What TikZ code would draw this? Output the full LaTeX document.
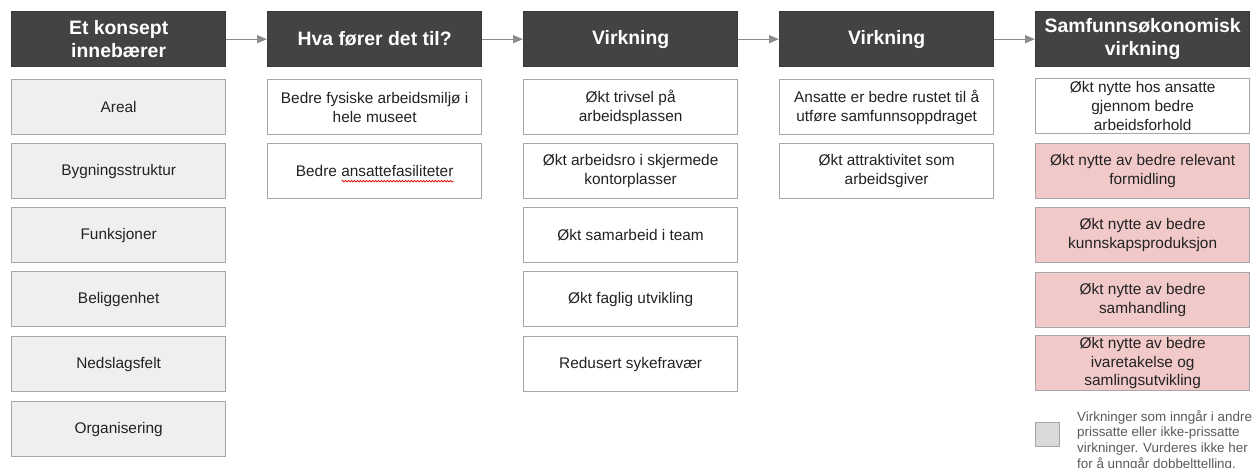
\documentclass[tikz,border=0pt]{standalone}
\usepackage{fontspec}
\setmainfont{Liberation Sans}
\usetikzlibrary{arrows.meta,decorations.pathmorphing}
\definecolor{hdr}{HTML}{434343}
\definecolor{hdrline}{HTML}{3A3A3A}
\definecolor{boxline}{HTML}{A6A6A6}
\definecolor{greyfill}{HTML}{EFEFEF}
\definecolor{pinkfill}{HTML}{F2C9C9}
\definecolor{legfill}{HTML}{D9D9D9}
\definecolor{txt}{HTML}{222222}
\definecolor{legtxt}{HTML}{5A5A5A}
\definecolor{arrcol}{HTML}{8C8C8C}
\begin{document}
\begin{tikzpicture}[x=1pt,y=-1pt,
  box/.style={draw=boxline, line width=1.3pt, minimum width=214pt, minimum height=55pt,
    inner sep=0pt, align=center, anchor=north west, text=txt,
    font=\fontsize{15.4}{18.8}\selectfont},
  hbox/.style={box, fill=hdr, draw=hdrline, text=white,
    font=\fontsize{19.4}{23.5}\selectfont\bfseries},
  gbox/.style={box, fill=greyfill},
  wbox/.style={box, fill=white},
  pbox/.style={box, fill=pinkfill},
  arr/.style={draw=arrcol, line width=1.3pt, -{Triangle[length=10pt,width=8pt]}, arrcol},
  legendtext/.style={anchor=north west, inner sep=0pt, align=left, text=legtxt,
    font=\fontsize{13.4}{15.7}\selectfont}
]
\useasboundingbox (0,0) rectangle (1253,467);
\clip (0,0) rectangle (1253,467);

% headers
\node[hbox] (h1) at (11,11) {Et konsept\\innebærer};
\node[hbox] (h2) at (267,11) {Hva fører det til?};
\node[hbox] (h3) at (523,11) {Virkning};
\node[hbox] (h4) at (779,11) {Virkning};
\node[hbox] (h5) at (1035,11) {Samfunnsøkonomisk\\virkning};

\draw[arr] (h1.east) -- (h2.west);
\draw[arr] (h2.east) -- (h3.west);
\draw[arr] (h3.east) -- (h4.west);
\draw[arr] (h4.east) -- (h5.west);

% column 1
\node[gbox] (a1) at (11,79) {Areal};
\node[gbox] (a2) at (11,143) {Bygningsstruktur};
\node[gbox] (a3) at (11,207) {Funksjoner};
\node[gbox] (a4) at (11,271) {Beliggenhet};
\node[gbox] (a5) at (11,336) {Nedslagsfelt};
\node[gbox] (a6) at (11,401) {Organisering};

% column 2
\node[wbox] (b1) at (267,79) {Bedre fysiske arbeidsmiljø i\\hele museet};
\node[wbox] (b2) at (267,143) {Bedre ansattefasiliteter};
\draw[red!85!black, line width=0.7pt, decoration={snake, amplitude=0.8pt, segment length=3pt}, decorate]
  ([xshift=-33pt,yshift=-10pt]b2.center) -- ([xshift=79pt,yshift=-10pt]b2.center);

% column 3
\node[wbox] (c1) at (523,79) {Økt trivsel på\\arbeidsplassen};
\node[wbox] (c2) at (523,143) {Økt arbeidsro i skjermede\\kontorplasser};
\node[wbox] (c3) at (523,207) {Økt samarbeid i team};
\node[wbox] (c4) at (523,271) {Økt faglig utvikling};
\node[wbox] (c5) at (523,336) {Redusert sykefravær};

% column 4
\node[wbox] (d1) at (779,79) {Ansatte er bedre rustet til å\\utføre samfunnsoppdraget};
\node[wbox] (d2) at (779,143) {Økt attraktivitet som\\arbeidsgiver};

% column 5
\node[wbox] (e1) at (1035,78) {Økt nytte hos ansatte\\gjennom bedre\\arbeidsforhold};
\node[pbox] (e2) at (1035,143) {Økt nytte av bedre relevant\\formidling};
\node[pbox] (e3) at (1035,207) {Økt nytte av bedre\\kunnskapsproduksjon};
\node[pbox] (e4) at (1035,272) {Økt nytte av bedre\\samhandling};
\node[pbox] (e5) at (1035,335) {Økt nytte av bedre\\ivaretakelse og\\samlingsutvikling};

% legend
\node[draw=boxline, line width=1.3pt, fill=legfill, minimum width=24pt, minimum height=24pt,
  inner sep=0pt, anchor=north west] (leg) at (1035,422) {};
\node[legendtext] (legt) at (1077,410) {Virkninger som inngår i andre\\prissatte eller ikke-prissatte\\virkninger. Vurderes ikke her\\for å unngår dobbelttelling.};
\end{tikzpicture}
\end{document}
